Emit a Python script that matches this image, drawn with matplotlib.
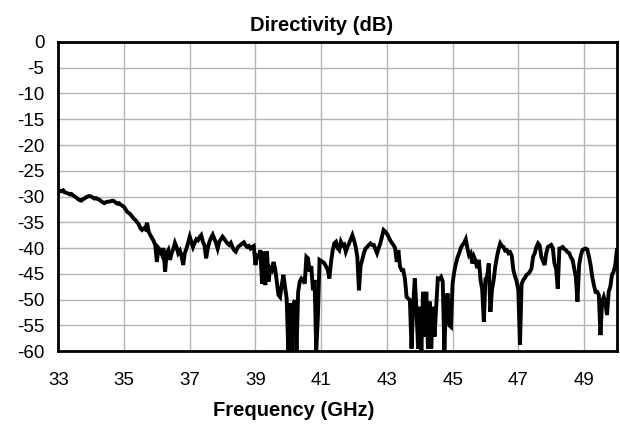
import matplotlib.pyplot as plt
import numpy as np

# Directivity (dB), one row per GHz, 0.05 GHz steps from 33 to 50 GHz
directivity = [
    -28.7, -28.9, -29.0, -28.8, -29.2, -29.3, -29.4, -29.6, -29.5, -29.8,
    -30.0, -30.2, -30.5, -30.7, -30.8, -30.5, -30.4, -30.1, -30.0, -29.9,  # 33
    -30.0, -30.2, -30.4, -30.3, -30.5, -30.6, -30.9, -31.1, -31.3, -31.1,
    -31.0, -31.0, -30.9, -30.8, -30.9, -31.2, -31.4, -31.3, -31.6, -31.8,  # 34
    -32.0, -32.5, -33.0, -33.2, -33.5, -33.9, -34.3, -34.6, -35.0, -35.4,
    -36.2, -36.5, -36.2, -36.4, -35.1, -36.8, -37.5, -38.0, -38.6, -39.4,  # 35
    -42.7, -40.0, -40.4, -41.2, -40.0, -44.6, -41.0, -40.4, -42.3, -41.0,
    -40.2, -39.0, -39.8, -41.0, -40.5, -41.5, -43.3, -41.0, -40.1, -39.0,  # 36
    -37.8, -38.8, -39.8, -39.0, -38.3, -38.5, -37.9, -37.5, -38.8, -39.5,
    -42.0, -40.0, -38.8, -38.0, -37.4, -38.2, -39.0, -40.1, -38.8, -38.3,  # 37
    -37.8, -38.2, -38.7, -39.1, -39.4, -39.0, -39.8, -40.4, -40.7, -40.0,
    -39.6, -39.4, -39.1, -38.9, -39.5, -39.8, -39.6, -40.1, -39.8, -39.6,  # 38
    -43.3, -41.5, -41.7, -40.4, -46.9, -40.7, -47.2, -40.6, -46.5, -43.9,
    -44.3, -42.7, -44.0, -46.5, -49.1, -49.5, -47.2, -45.2, -47.5, -49.8,  # 39
    -60.0, -50.7, -60.0, -51.0, -50.1, -60.0, -48.5, -46.5, -45.9, -46.2,
    -46.9, -41.7, -42.0, -44.6, -43.5, -48.2, -46.2, -60.0, -53.4, -42.3,  # 40
    -42.5, -42.7, -43.0, -43.6, -44.2, -45.9, -42.7, -40.5, -39.1, -38.8,
    -40.0, -40.4, -38.8, -39.5, -39.3, -40.7, -39.8, -39.1, -38.3, -37.5,  # 41
    -38.5, -39.8, -41.7, -48.2, -43.5, -42.3, -41.0, -40.1, -39.8, -39.4,
    -39.1, -39.4, -39.4, -40.2, -41.0, -40.0, -39.1, -37.8, -36.5, -36.8,  # 42
    -37.2, -37.8, -38.5, -39.0, -39.4, -40.0, -42.7, -40.4, -43.6, -44.3,
    -44.3, -46.0, -49.5, -49.8, -50.1, -59.5, -51.1, -45.9, -52.0, -59.5,  # 43
    -51.4, -60.0, -48.5, -57.2, -48.5, -59.5, -50.4, -59.5, -51.4, -57.2,
    -51.4, -45.9, -46.0, -45.6, -46.5, -60.0, -50.0, -48.8, -55.0, -55.3,  # 44
    -46.9, -44.6, -43.0, -41.8, -41.0, -40.0, -39.4, -39.0, -38.3, -40.0,
    -41.4, -41.0, -43.0, -41.7, -42.5, -43.9, -42.3, -46.2, -48.0, -54.3,  # 45
    -46.0, -45.6, -43.0, -52.4, -48.0, -46.2, -43.5, -41.7, -40.2, -39.1,
    -39.6, -39.8, -40.5, -40.4, -41.0, -40.8, -41.5, -44.3, -45.5, -46.5,  # 46
    -48.2, -58.8, -47.0, -46.2, -45.8, -45.2, -45.0, -44.6, -44.0, -41.7,
    -41.0, -39.8, -39.1, -39.5, -41.7, -42.5, -43.3, -41.0, -39.8, -39.6,  # 47
    -39.4, -40.0, -43.0, -44.0, -47.9, -40.1, -40.0, -39.8, -40.2, -40.4,
    -40.8, -41.0, -41.8, -42.3, -44.0, -45.6, -50.4, -43.3, -41.5, -40.4,  # 48
    -40.2, -40.1, -40.3, -41.7, -43.3, -45.6, -47.2, -48.5, -48.5, -49.1,
    -56.9, -50.4, -49.5, -50.7, -53.0, -48.5, -47.5, -45.2, -44.6, -43.3,  # 49
    -40.4,
]
freq = np.linspace(33, 50, len(directivity))

x_ticks = [33, 35, 37, 39, 41, 43, 45, 47, 49]
y_ticks = [0, -5, -10, -15, -20, -25, -30, -35, -40, -45, -50, -55, -60]

plt.rcParams['font.family'] = ['Liberation Sans', 'DejaVu Sans']
plt.rcParams['axes.unicode_minus'] = False

fig = plt.figure(figsize=(6.2, 4.24), dpi=100)
ax = fig.add_axes([0.094, 0.172, 0.901, 0.729])

ax.plot(freq, directivity, color='black', linewidth=2.8, solid_joinstyle='miter')

ax.set_xlim(33, 50)
ax.set_ylim(-60, 0)
ax.set_xticks(x_ticks)
ax.set_yticks(y_ticks)
ax.grid(True, color='#b4b4b4', linewidth=1)
ax.tick_params(length=0, labelsize=13.5)
ax.tick_params(axis='x', pad=15)
ax.tick_params(axis='y', pad=10)
for s in ax.spines.values():
    s.set_linewidth(2)

# title and axis label sit a little left of the plot centre in the original
ax.set_title('Directivity (dB)', fontsize=14.5, fontweight='bold', pad=8, x=0.472)
ax.set_xlabel('Frequency (GHz)', fontsize=14.5, fontweight='bold')
ax.xaxis.set_label_coords(0.422, -0.163)

fig.savefig('out.png', dpi=100)
